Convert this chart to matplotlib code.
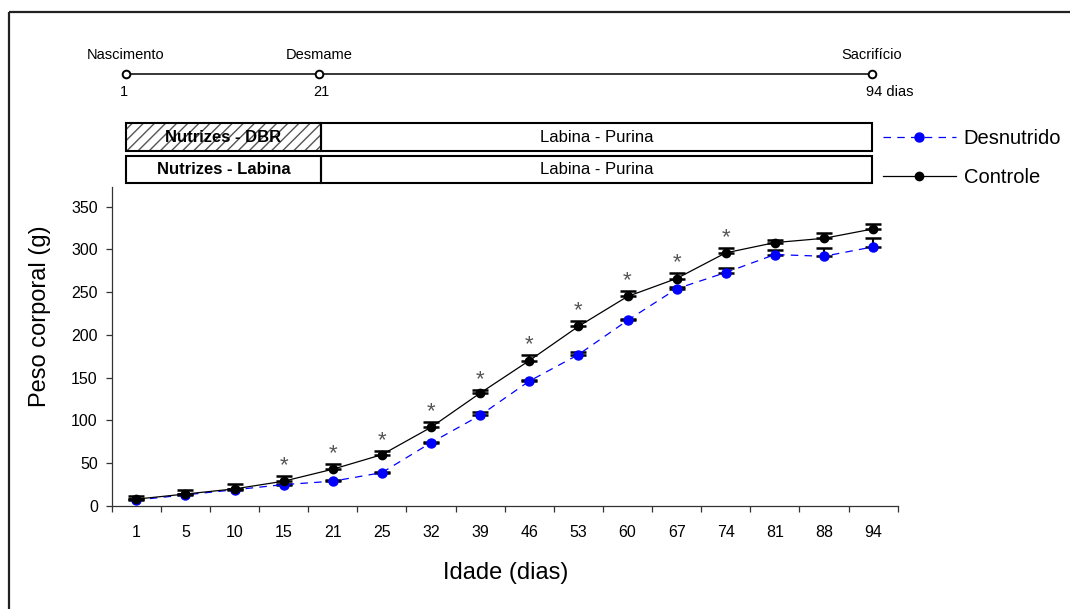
import numpy as np
import matplotlib
matplotlib.use("Agg")
import matplotlib.pyplot as plt
from matplotlib.patches import Rectangle

plt.rcParams['font.family'] = ['Liberation Sans', 'DejaVu Sans']
plt.rcParams['hatch.linewidth'] = 1.0

# dados (peso corporal, g)
dias = [1, 5, 10, 15, 21, 25, 32, 39, 46, 53, 60, 67, 74, 81, 88, 94]
controle = [8, 14, 20, 29, 43, 60, 92, 132, 170, 210, 245, 266, 296, 308, 313, 324]
controle_ep = [4, 5, 6, 6, 6, 4, 6, 4, 6, 6, 6, 6, 6, 3, 6, 6]
desnutrido = [7, 13, 19, 25, 29, 39, 74, 106, 146, 177, 217, 254, 273, 294, 292, 303]
desnutrido_ep = [1, 1, 1, 1, 1, 1, 1, 4, 1.5, 3.5, 2, 1.5, 5.5, 5, 10, 10]
dias_signif = [15, 21, 25, 32, 39, 46, 53, 60, 67, 74]

# esquema do protocolo
eventos = ['Nascimento', 'Desmame', 'Sacrifício']
eventos_dia = ['1', '21', '94 dias']
dieta_desn = ['Nutrizes - DBR', 'Labina - Purina']
dieta_ctrl = ['Nutrizes - Labina', 'Labina - Purina']

W, H = 1070, 609
fig = plt.figure(figsize=(W / 100, H / 100), dpi=100)

ax = fig.add_axes([111.7 / W, 1 - 506 / H, 786 / W, (506 - 187) / H])
x = np.arange(len(dias))

# desnutrido first so controle sits on top
ax.errorbar(x, desnutrido, yerr=[np.zeros(len(x)), desnutrido_ep], fmt='none',
            ecolor='black', elinewidth=1.5, capsize=5.5, capthick=1.8, zorder=2)
l_desn, = ax.plot(x, desnutrido, color='#0000ff', ls=(0, (6, 5)), lw=0.9,
                  marker='o', ms=6.5, mec='#0000ff', mfc='#0000ff', zorder=3)
ax.errorbar(x, controle, yerr=[np.zeros(len(x)), controle_ep], fmt='none',
            ecolor='black', elinewidth=1.5, capsize=5.5, capthick=1.8, zorder=4)
l_ctrl, = ax.plot(x, controle, color='black', lw=0.9, marker='o', ms=6,
                  mfc='black', mec='black', zorder=5)

for d in dias_signif:
    i = dias.index(d)
    ax.annotate('*', xy=(i, controle[i] + controle_ep[i]), xytext=(0, 0),
                textcoords='offset points', ha='center', va='bottom',
                fontsize=16, color='#555555')

ax.set_xlim(-0.5, len(dias) - 0.5)
ax.set_ylim(0, 373)
ax.set_yticks(np.arange(0, 351, 50))
ax.set_xticks(np.arange(-0.5, len(dias), 1.0))
ax.set_xticklabels([])
ax.set_xticks(x, minor=True)
ax.set_xticklabels([str(d) for d in dias], minor=True)
ax.tick_params(axis='x', which='major', direction='out', length=4, width=0.9, color='#333333')
ax.tick_params(axis='x', which='minor', length=0, pad=13.5, labelsize=11.5)
ax.tick_params(axis='y', direction='out', length=4, width=0.9, color='#333333',
               pad=6, labelsize=11.5)
for s in ['top', 'right']:
    ax.spines[s].set_visible(False)
for s in ['left', 'bottom']:
    ax.spines[s].set_linewidth(0.9)
    ax.spines[s].set_color('#333333')

fig.text(40 / W, 1 - 316.5 / H, 'Peso corporal (g)', rotation=90,
         ha='center', va='center', fontsize=17)
fig.text(506 / W, 1 - 573 / H, 'Idade (dias)', ha='center', va='center', fontsize=17)

fig.legend([l_desn, l_ctrl], ['Desnutrido', 'Controle'], loc='center left',
           bbox_to_anchor=(883 / W, 1 - 158 / H), frameon=False, fontsize=14.5,
           handlelength=3.6, handletextpad=0.4, labelspacing=1.0, numpoints=1,
           borderaxespad=0, borderpad=0)

# overlay em pixels para o esquema e a moldura
ov = fig.add_axes([0, 0, 1, 1], zorder=-1)
ov.set_xlim(0, W)
ov.set_ylim(H, 0)
ov.axis('off')

ov.plot([9, 9], [12, H], color='#222222', lw=1.6, solid_capstyle='butt')
ov.plot([9, W], [12, 12], color='#222222', lw=1.6, solid_capstyle='butt')

tx = [126, 319, 872]
ov.plot([tx[0], tx[-1]], [74, 74], color='black', lw=1.1)
ov.plot(tx, [74] * 3, ls='none', marker='o', ms=5.5, mfc='white', mec='black', mew=1.4)
for xp, ev, dd in zip(tx, eventos, eventos_dia):
    ov.text(xp, 55, ev, ha='center', va='center', fontsize=10.5)
    ov.text(xp - 6, 92, dd, ha='left', va='center', fontsize=10.5)

x0, x1, x2 = 126, 321, 872
for (top, bot), labels, hatched in [((123, 151), dieta_desn, True),
                                    ((155.5, 182.5), dieta_ctrl, False)]:
    h = bot - top
    if hatched:
        ov.add_patch(Rectangle((x0, top), x1 - x0, h, facecolor='white',
                               edgecolor='#555555', hatch='///', lw=0))
    ov.add_patch(Rectangle((x0, top), x1 - x0, h, fill=False, edgecolor='black', lw=1.5))
    ov.add_patch(Rectangle((x1, top), x2 - x1, h, fill=False, edgecolor='black', lw=1.5))
    ov.text((x0 + x1) / 2, (top + bot) / 2, labels[0], ha='center', va='center',
            fontsize=12, fontweight='bold')
    ov.text((x1 + x2) / 2, (top + bot) / 2, labels[1], ha='center', va='center',
            fontsize=12)

fig.savefig('out.png', dpi=100)
